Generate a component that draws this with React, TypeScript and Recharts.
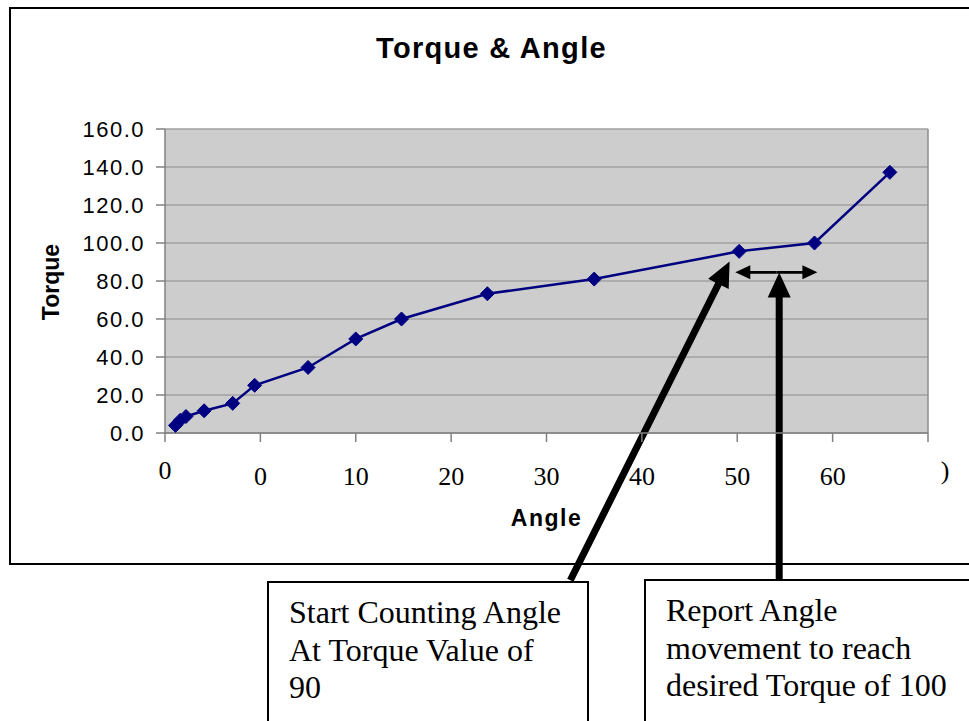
import React from 'react';
import { LineChart, Line, XAxis, YAxis, CartesianGrid, ReferenceLine, Label } from 'recharts';

// readings taken off the torque / angle curve
const angles = [-8.9, -8.4, -7.8, -5.9, -2.9, -0.6, 5.0, 10.0, 14.8, 23.8, 35.0, 50.2, 58.1, 66.0];
const torques = [4.0, 6.7, 8.7, 11.7, 15.6, 25.1, 34.5, 49.5, 60.0, 73.3, 81.0, 95.6, 100.0, 137.2];

const xTicks = [-10, 0, 10, 20, 30, 40, 50, 60, 70];
const xTickLabels = ['0', '0', '10', '20', '30', '40', '50', '60', ')'];
const yTicks = [0, 20, 40, 60, 80, 100, 120, 140, 160];

// callout arrows, in chart units (angle, torque)
const startArrow = [{ x: 32.5, y: -77.5 }, { x: 49.2, y: 90.2 }];
const reportArrow = [{ x: 54.4, y: -77 }, { x: 54.4, y: 84.4 }];
const spanArrow = [{ x: 49.8, y: 84.6 }, { x: 58.4, y: 84.6 }];

const startNote = ['Start Counting Angle', 'At Torque Value of', '90'];
const reportNote = ['Report Angle', 'movement to reach', 'desired Torque of 100'];

const data = angles.map((angle, i) => ({ angle, torque: torques[i] }));

const NAVY = '#000080';
const SANS = '"Liberation Sans", Arial, sans-serif';
const SERIF = '"Liberation Serif", "Times New Roman", serif';

// polygon for a solid arrow pointing from (x1,y1) to (x2,y2)
const arrowPath = (x1: number, y1: number, x2: number, y2: number, shaft: number, headLen: number, headW: number) => {
  const len = Math.hypot(x2 - x1, y2 - y1) || 1;
  const ux = (x2 - x1) / len;
  const uy = (y2 - y1) / len;
  const nx = -uy;
  const ny = ux;
  const bx = x2 - ux * headLen;
  const by = y2 - uy * headLen;
  const s = shaft / 2;
  const h = headW / 2;
  const pts = [
    [x1 + nx * s, y1 + ny * s],
    [bx + nx * s, by + ny * s],
    [bx + nx * h, by + ny * h],
    [x2, y2],
    [bx - nx * h, by - ny * h],
    [bx - nx * s, by - ny * s],
    [x1 - nx * s, y1 - ny * s],
  ];
  return 'M' + pts.map((p) => p[0].toFixed(1) + ',' + p[1].toFixed(1)).join('L') + 'Z';
};

const ThickArrow = (props: any) => {
  const { x1, y1, x2, y2 } = props;
  return <path d={arrowPath(x1, y1, x2, y2, 7, 25, 23)} fill="#000" stroke="none" />;
};

const DoubleArrow = (props: any) => {
  const { x1, y1, x2, y2 } = props;
  const mx = (x1 + x2) / 2;
  const my = (y1 + y2) / 2;
  return (
    <g>
      <path d={arrowPath(mx, my, x2, y2, 2.8, 15, 14)} fill="#000" />
      <path d={arrowPath(mx, my, x1, y1, 2.8, 15, 14)} fill="#000" />
    </g>
  );
};

const Diamond = (props: any) => {
  const { cx, cy, index } = props;
  if (cx == null || cy == null) return null;
  const r = 7;
  return (
    <path
      key={`dot-${index}`}
      d={`M${cx},${cy - r}L${cx + r},${cy}L${cx},${cy + r}L${cx - r},${cy}Z`}
      fill={NAVY}
      stroke={NAVY}
      strokeWidth={1}
    />
  );
};

const AngleTick = (props: any) => {
  const { x, y, payload } = props;
  const i = xTicks.indexOf(payload.value);
  const label = i >= 0 ? xTickLabels[i] : String(payload.value);
  const first = i === 0;
  const last = i === xTicks.length - 1;
  return (
    <text
      x={x + (last ? 17 : 0)}
      y={y}
      dy={first || last ? 35 : 41}
      textAnchor="middle"
      fontFamily={SERIF}
      fontSize={26}
      fill="#000"
    >
      {label}
    </text>
  );
};

const noteStyle: React.CSSProperties = {
  position: 'absolute',
  boxSizing: 'border-box',
  border: '2px solid #000',
  background: '#fff',
  fontFamily: SERIF,
  fontSize: 32,
  lineHeight: '37.5px',
  color: '#000',
  whiteSpace: 'nowrap',
  paddingTop: 11,
  paddingLeft: 20,
};

export default function App() {
  return (
    <div style={{ position: 'absolute', left: 0, top: 0, width: 969, height: 721, overflow: 'hidden', background: '#fff' }}>
      {/* outer chart frame */}
      <div
        style={{
          position: 'absolute',
          left: 9,
          top: 7,
          width: 1000,
          height: 558,
          boxSizing: 'border-box',
          border: '2px solid #000',
        }}
      />

      <div
        style={{
          position: 'absolute',
          left: 0,
          top: 30,
          width: 983,
          textAlign: 'center',
          fontFamily: SANS,
          fontWeight: 'bold',
          fontSize: 29,
          letterSpacing: 1.3,
          lineHeight: '36px',
          color: '#000',
        }}
      >
        Torque &amp; Angle
      </div>

      <div style={{ position: 'absolute', left: 0, top: 0 }}>
        <LineChart width={969} height={721} data={data} margin={{ top: 129, right: 41, bottom: 188, left: 0 }}>
          <CartesianGrid fill="#cdcdcd" stroke="#a0a0a0" strokeWidth={1.5} vertical={false} />
          <XAxis
            type="number"
            dataKey="angle"
            domain={[-10, 70]}
            ticks={xTicks}
            interval={0}
            height={100}
            allowDataOverflow
            stroke="#808080"
            strokeWidth={1.5}
            tickSize={9}
            tick={<AngleTick />}
          >
            <Label
              content={(p: any) => {
                const vb = p.viewBox || { x: 165, y: 433, width: 763, height: 100 };
                return (
                  <text
                    x={vb.x + vb.width / 2}
                    y={vb.y + vb.height - 7}
                    textAnchor="middle"
                    fontFamily={SANS}
                    fontWeight="bold"
                    fontSize={23}
                    letterSpacing={1.5}
                    fill="#000"
                  >
                    Angle
                  </text>
                );
              }}
            />
          </XAxis>
          <YAxis
            type="number"
            domain={[0, 160]}
            ticks={yTicks}
            interval={0}
            width={165}
            allowDataOverflow
            stroke="#808080"
            strokeWidth={1.5}
            tickSize={9}
            tickMargin={11}
            tickFormatter={(v: number) => v.toFixed(1)}
            tick={{ fill: '#000', fontFamily: SANS, fontSize: 22, letterSpacing: 1.5 }}
          >
            <Label
              content={(p: any) => {
                const vb = p.viewBox || { x: 0, y: 129, width: 165, height: 304 };
                const cx = vb.x + 51;
                const cy = vb.y + vb.height / 2 + 1;
                return (
                  <text
                    x={cx}
                    y={cy}
                    transform={`rotate(-90 ${cx} ${cy})`}
                    textAnchor="middle"
                    dominantBaseline="central"
                    fontFamily={SANS}
                    fontWeight="bold"
                    fontSize={23}
                    fill="#000"
                  >
                    Torque
                  </text>
                );
              }}
            />
          </YAxis>
          <ReferenceLine x={70} stroke="#8c8c8c" strokeWidth={1.5} />
          <Line
            type="linear"
            dataKey="torque"
            stroke={NAVY}
            strokeWidth={2.5}
            dot={Diamond}
            activeDot={false}
            isAnimationActive={false}
          />
          <ReferenceLine segment={spanArrow} ifOverflow="visible" shape={DoubleArrow} />
          <ReferenceLine segment={startArrow} ifOverflow="visible" shape={ThickArrow} />
          <ReferenceLine segment={reportArrow} ifOverflow="visible" shape={ThickArrow} />
        </LineChart>
      </div>

      <div style={{ ...noteStyle, left: 267, top: 581, width: 322, height: 200 }}>
        {startNote.map((line) => (
          <div key={line}>{line}</div>
        ))}
      </div>
      <div style={{ ...noteStyle, left: 644, top: 579, width: 400, height: 200 }}>
        {reportNote.map((line) => (
          <div key={line}>{line}</div>
        ))}
      </div>
    </div>
  );
}
